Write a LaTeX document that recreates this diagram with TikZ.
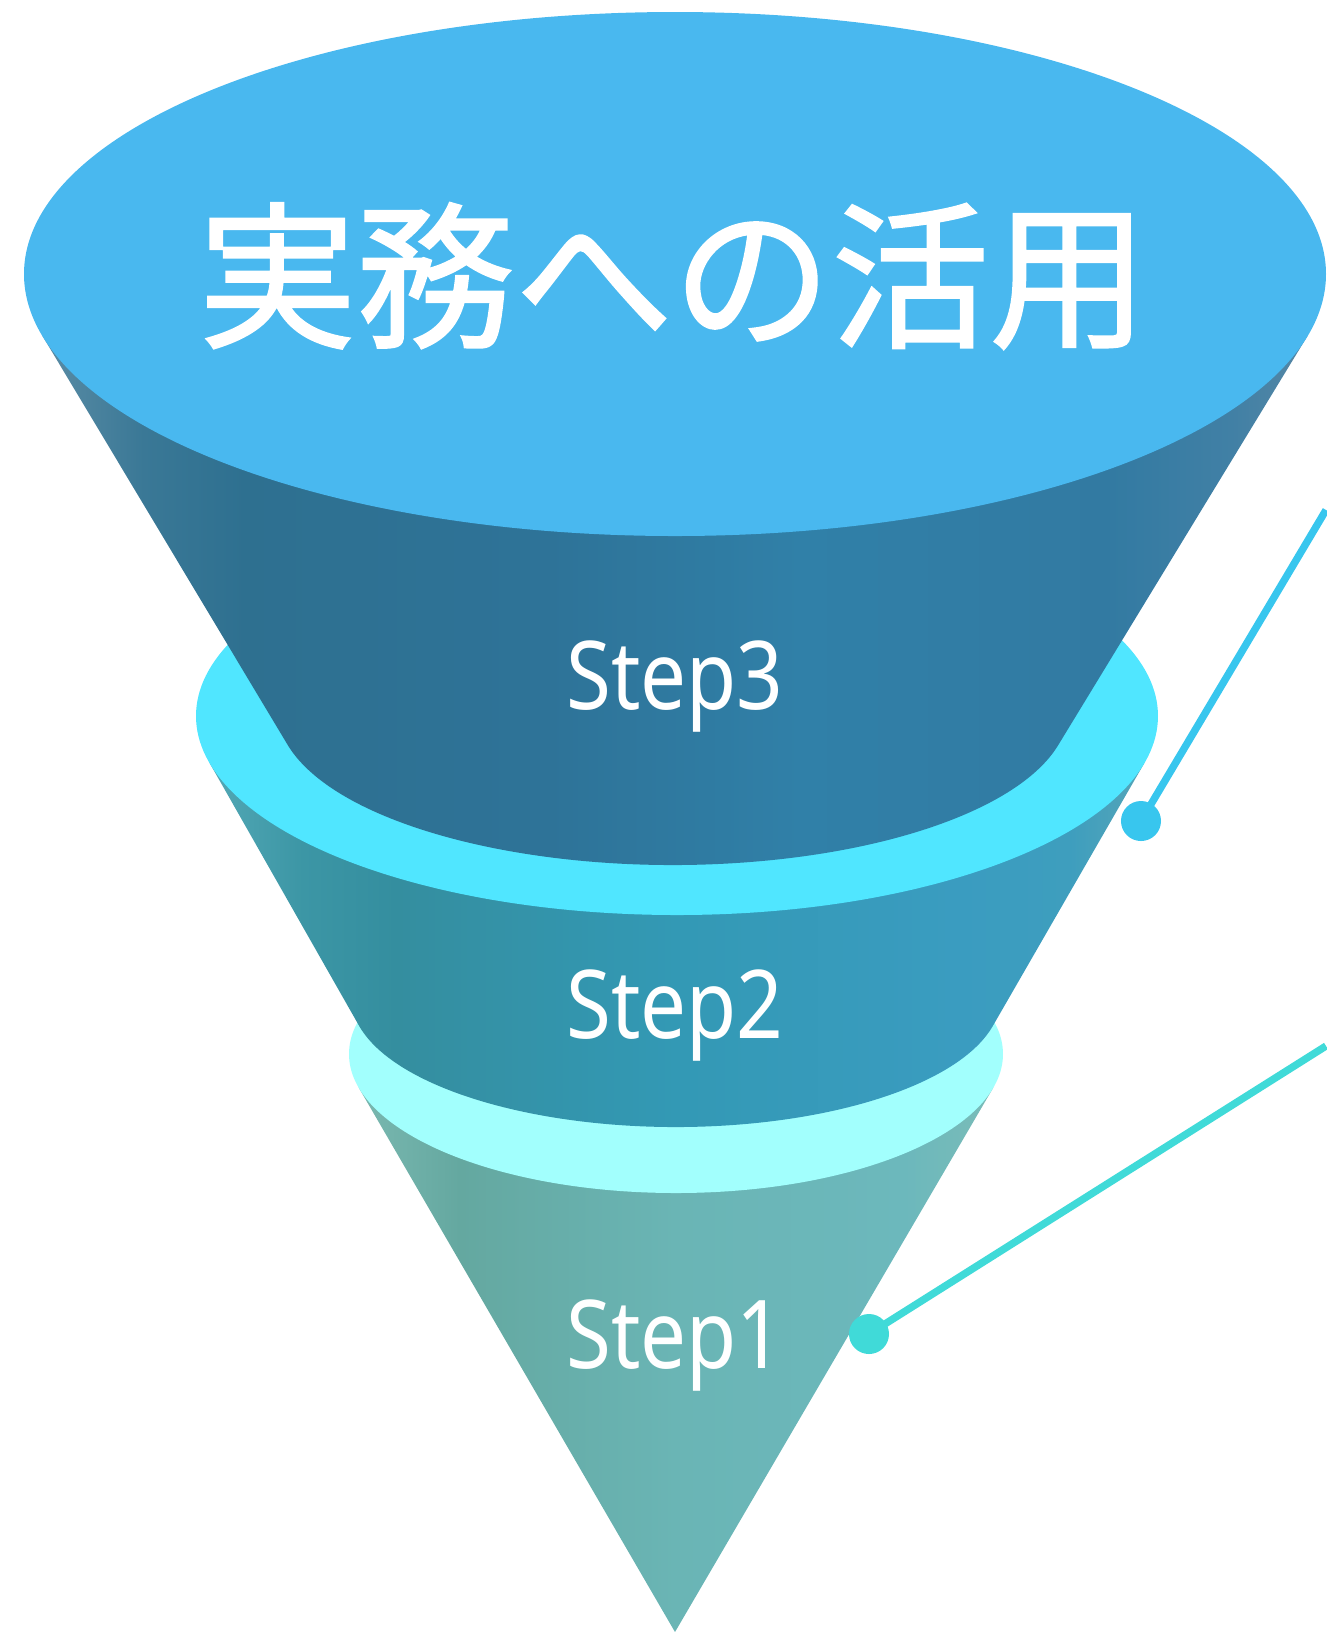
\documentclass[tikz,border=0pt]{standalone}
\usepackage{fontspec}
\usetikzlibrary{calc}
\newfontfamily\cjk[FakeBold=1.3]{Noto Sans CJK JP}
\newfontfamily\lab{Noto Sans}
\definecolor{topc}{HTML}{49B8EF}
\definecolor{ringA}{HTML}{50E6FF}
\definecolor{ringB}{HTML}{A2FFFD}
\definecolor{lineA}{HTML}{38C6EE}
\definecolor{lineB}{HTML}{40DAD8}
\pgfdeclarehorizontalshading{segthree}{100bp}{
 color(0bp)=(rgb,255:red,90;green,140;blue,165);
 color(25bp)=(rgb,255:red,90;green,140;blue,165);
 color(29bp)=(rgb,255:red,58;green,120;blue,150);
 color(33bp)=(rgb,255:red,46;green,112;blue,144);
 color(45bp)=(rgb,255:red,46;green,115;blue,152);
 color(55bp)=(rgb,255:red,48;green,128;blue,168);
 color(67bp)=(rgb,255:red,50;green,122;blue,162);
 color(72bp)=(rgb,255:red,65;green,128;blue,165);
 color(75bp)=(rgb,255:red,85;green,135;blue,165);
 color(100bp)=(rgb,255:red,85;green,135;blue,165)}
\pgfdeclarehorizontalshading{segtwo}{100bp}{
 color(0bp)=(rgb,255:red,82;green,168;blue,181);
 color(25bp)=(rgb,255:red,82;green,168;blue,181);
 color(30bp)=(rgb,255:red,60;green,150;blue,165);
 color(35bp)=(rgb,255:red,52;green,142;blue,159);
 color(50bp)=(rgb,255:red,51;green,153;blue,181);
 color(65bp)=(rgb,255:red,58;green,156;blue,192);
 color(71bp)=(rgb,255:red,62;green,158;blue,190);
 color(75bp)=(rgb,255:red,85;green,165;blue,184);
 color(100bp)=(rgb,255:red,85;green,165;blue,184)}
\pgfdeclarehorizontalshading{segone}{100bp}{
 color(0bp)=(rgb,255:red,122;green,184;blue,176);
 color(25bp)=(rgb,255:red,122;green,184;blue,176);
 color(33bp)=(rgb,255:red,100;green,168;blue,160);
 color(50bp)=(rgb,255:red,106;green,181;blue,181);
 color(68bp)=(rgb,255:red,108;green,184;blue,188);
 color(75bp)=(rgb,255:red,122;green,188;blue,184);
 color(100bp)=(rgb,255:red,122;green,188;blue,184)}
\tikzset{
 steplabel/.style={text=white,font=\lab\fontsize{27}{30}\selectfont,xscale=0.86,transform shape,inner sep=0pt},
 dotA/.style={circle,fill=lineA,minimum size=0.4cm,inner sep=0pt},
 dotB/.style={circle,fill=lineB,minimum size=0.4cm,inner sep=0pt}
}
\begin{document}
\begin{tikzpicture}[x=0.01cm,y=-0.01cm]
\useasboundingbox (0,0) rectangle (1326,1632);
% segment 1 (cone)
\shade[shading=segone] (676,1054) ++(166.08:327 and 139) -- (675,1632) -- ($(676,1054)+(13.92:327 and 139)$) -- cycle;
% ring 1
\fill[ringB] (676,1054) ellipse [x radius=327, y radius=139];
% segment 2 body
\shade[shading=segtwo] (677,716) ++(166.5:481 and 199) -- ($(676,997)+(166.9:325 and 130)$)
  arc[start angle=166.9, end angle=13.1, x radius=325, y radius=130]
  -- ($(677,716)+(13.5:481 and 199)$) -- cycle;
% ring 2
\fill[ringA] (677,716) ellipse [x radius=481, y radius=199];
% segment 3 body
\shade[shading=segthree] (675,274) ++(166.35:651 and 262) -- ($(673,709)+(166.6:396 and 156)$)
  arc[start angle=166.6, end angle=13.4, x radius=396, y radius=156]
  -- ($(675,274)+(13.65:651 and 262)$) -- cycle;
% top face
\fill[topc] (675,274) ellipse [x radius=651, y radius=262];
\node[text=white,font=\cjk\fontsize{45}{50}\selectfont,inner sep=0pt] (title) at (673,276) {実務への活用};
\node[steplabel] (s3) at (675,687) {Step3};
\node[steplabel] (s2) at (675,1016) {Step2};
\node[steplabel] (s1) at (675,1346) {Step1};
% connectors
\node[dotA] (da) at (1141,821) {};
\coordinate (ea) at (1326,510);
\draw[lineA,line width=2.1pt] (da.center) -- (ea);
\node[dotB] (db) at (869,1334) {};
\coordinate (eb) at (1326,1046);
\draw[lineB,line width=2.1pt] (db.center) -- (eb);
\end{tikzpicture}
\end{document}
